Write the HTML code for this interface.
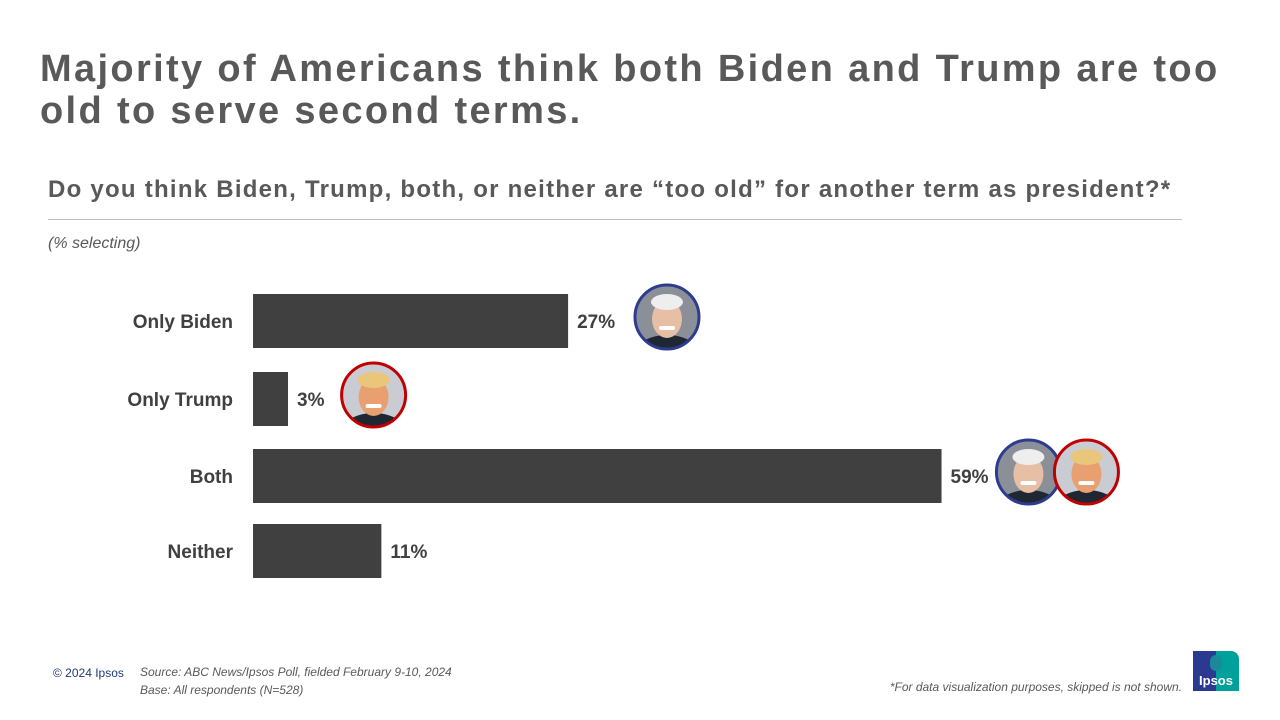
<!DOCTYPE html>
<html><head><meta charset="utf-8">
<style>
body{margin:0;width:1280px;height:720px;background:#fff;font-family:"Liberation Sans",sans-serif;position:relative;overflow:hidden}
.abs{position:absolute}
</style></head>
<body>
<div class="abs" style="left:40px;top:48px;font-size:38px;font-weight:bold;color:#595959;line-height:42px;width:1210px;letter-spacing:2.35px">Majority of Americans think both Biden and Trump are too old to serve second terms.</div>
<div class="abs" style="left:48px;top:176px;font-size:24px;font-weight:bold;color:#595959;letter-spacing:1.25px;white-space:nowrap">Do you think Biden, Trump, both, or neither are “too old” for another term as president?*</div>
<div class="abs" style="left:48px;top:219px;width:1134px;height:1px;background:#bfbfbf"></div>
<div class="abs" style="left:48px;top:235px;font-size:16px;font-style:italic;color:#595959">(% selecting)</div>
<svg id="chart" class="abs" style="left:0;top:0" width="1280" height="720"></svg>
<div class="abs" style="left:53px;top:666px;font-size:12px;color:#1f3a7a">© 2024 Ipsos</div>
<div class="abs" style="left:140px;top:663px;font-size:12px;font-style:italic;color:#595959;line-height:18px">Source: ABC News/Ipsos Poll, fielded February 9-10, 2024<br>Base: All respondents (N=528)</div>
<div class="abs" style="right:98px;top:680px;font-size:12px;font-style:italic;color:#595959">*For data visualization purposes, skipped is not shown.</div>
<div class="abs" style="left:1193px;top:651px;width:46px;height:40px;background:linear-gradient(90deg,#2b3990 50%,#00a19a 50%);border-radius:0 8px 0 0">
<div style="position:absolute;left:17px;top:4px;width:12px;height:16px;border-radius:6px;background:#1a8a9a"></div>
<div style="position:absolute;left:0;width:46px;top:22px;text-align:center;color:#fff;font-size:13px;font-weight:bold">Ipsos</div></div>
<script>
const categories=["Only Biden","Only Trump","Both","Neither"];
const values=[27,3,59,11];
const labels=["27%","3%","59%","11%"];
const portraits=[["b"],["t"],["b","t"],[]];
const svg=document.getElementById('chart');
const NS="http://www.w3.org/2000/svg";
const x0=253,pxPer=11.67;
const xs=v=>x0+v*pxPer;
const rowTops=[294,372,449,524],barH=54;
function mk(t,a){const e=document.createElementNS(NS,t);for(const k in a)e.setAttribute(k,a[k]);svg.appendChild(e);return e;}
function face(cx,cy,type,i){
 const g=document.createElementNS(NS,'g');svg.appendChild(g);
 
 
 const id='clip'+i+type;
 const cp=document.createElementNS(NS,'clipPath');cp.setAttribute('id',id);
 const cc=document.createElementNS(NS,'circle');cc.setAttribute('cx',cx);cc.setAttribute('cy',cy);cc.setAttribute('r',32);cp.appendChild(cc);g.appendChild(cp);
 const inner=document.createElementNS(NS,'g');inner.setAttribute('clip-path','url(#'+id+')');g.appendChild(inner);
 const add=(t,a)=>{const e=document.createElementNS(NS,t);for(const k in a)e.setAttribute(k,a[k]);inner.appendChild(e);};
 add('rect',{x:cx-33,y:cy-33,width:66,height:66,fill:type==='b'?'#8a8f98':'#c9ccd3'});
 add('ellipse',{cx:cx,cy:cy+34,rx:30,ry:16,fill:'#1f2733'});
 add('ellipse',{cx:cx,cy:cy+2,rx:15,ry:19,fill:type==='b'?'#e7bfa5':'#e8a070'});
 add('ellipse',{cx:cx,cy:cy-15,rx:16,ry:8,fill:type==='b'?'#eeeeee':'#e9c67a'});
 add('rect',{x:cx-8,y:cy+9,width:16,height:4,rx:2,fill:'#fff'});
 mk('circle',{cx:cx,cy:cy,r:32,fill:'none',stroke:type==='b'?'#2e3c8f':'#c00000','stroke-width':3});
}
categories.forEach((c,i)=>{
 const y=rowTops[i],w=xs(values[i])-x0;
 const t=mk('text',{x:233,y:y+barH/2+7,'text-anchor':'end','font-size':19,'font-weight':'bold',fill:'#404040'});t.textContent=c;
 
 
 const r=mk('rect',{x:x0,y:y,width:w,height:barH,fill:'#404040'});
 
 
 const lx=xs(values[i])+9;
 const l=mk('text',{x:lx,y:y+barH/2+7,'font-size':19,'font-weight':'bold',fill:'#404040'});l.textContent=labels[i];
 
 
 const lw=labels[i].length*13.3;
 const gap=portraits[i].length>1?38:50;
 portraits[i].forEach((p,k)=>face(lx+lw+gap+k*58,y+barH/2-4,p,i));
});
</script>
</body></html>
